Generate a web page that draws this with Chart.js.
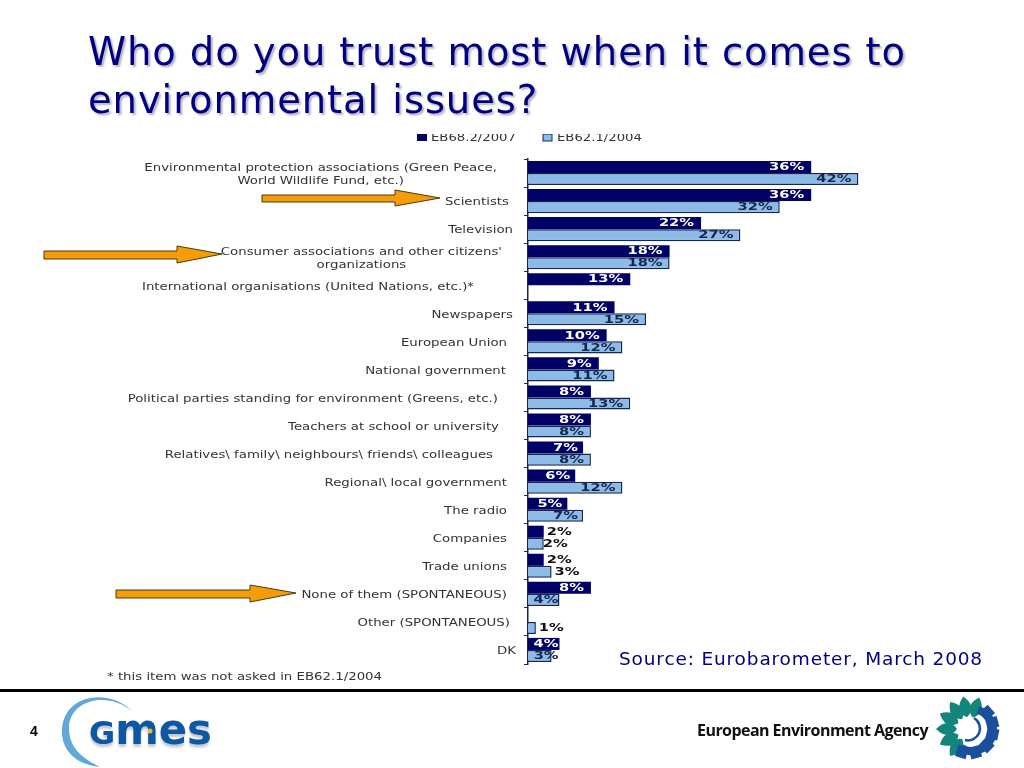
<!DOCTYPE html>
<html lang="en">
<head>
<meta charset="UTF-8">
<title>Who do you trust most when it comes to environmental issues?</title>
<script src="https://cdn.jsdelivr.net/npm/chart.js@4"></script>
<style>
  body { margin: 0; background: #fff; width: 1024px; height: 768px; overflow: hidden; position: relative; font-family: "DejaVu Sans", sans-serif; }
  canvas { position: absolute; left: 0; top: 0; }
  svg { position: absolute; left: 0; top: 0; }
  h1 { position: absolute; left: 88px; top: 28px; margin: 0; font-size: 38.5px; line-height: 48px; font-weight: normal; color: #000080; text-shadow: 2px 2px 2px #b4b4c0; white-space: nowrap; letter-spacing: 0.9px; }
  .source { position: absolute; left: 619px; top: 648px; font-size: 18.5px; color: #000080; white-space: nowrap; letter-spacing: 0.85px; }
  .pageno { position: absolute; left: 30px; top: 723px; font: bold 14px "Liberation Sans", sans-serif; color: #000; }
  .rule { position: absolute; left: 0; top: 689px; width: 1024px; height: 3px; background: #000; }
  .eea { position: absolute; left: 697px; top: 719px; font: bold 16px "Open Sans", sans-serif; color: #111; white-space: nowrap; letter-spacing: -0.55px; }
</style>
</head>
<body>
<canvas id="chart" width="1024" height="768"></canvas>
<h1>Who do you trust most when it comes to<br>environmental issues?</h1>
<div class="source">Source: Eurobarometer, March 2008</div>
<div class="rule"></div>
<div class="pageno">4</div>
<div class="eea">European Environment Agency</div>

<svg id="overlay" width="1024" height="768" xmlns="http://www.w3.org/2000/svg">
  <!-- Orange arrows -->
  <g fill="#f59c0a" stroke="#4a3a10" stroke-width="1">
    <polygon points="262,195 395,195 395,190 440,198 395,206 395,202 262,202"/>
    <polygon points="44,251 177,251 177,246 222,254 177,263 177,259 44,259"/>
    <polygon points="116,590 250,590 250,585 296,593 250,602 250,598 116,598"/>
  </g>
  <!-- GMES logo -->
  <path d="M133 712 C112 688 62 692 62 732 C62 752 78 765 100 767 C82 758 69 748 69 728 C69 700 108 690 133 712 Z" fill="#62a8d6"/>
  <text x="89" y="744" font-family="DejaVu Sans" font-weight="bold" fill="#0d57a3" textLength="123" lengthAdjust="spacingAndGlyphs" style="filter: drop-shadow(0 3px 1px #c4c8d0)"><tspan font-size="32">G</tspan><tspan font-size="42">mes</tspan></text>
  <circle cx="150" cy="731" r="2.5" fill="#e8b830"/>
  <g id="eeaLogo"></g>
</svg>

<script>
const categories = [
  ["Environmental protection associations (Green Peace,", "World Wildlife Fund, etc.)"],
  "Scientists",
  "Television",
  ["Consumer associations and other citizens'", "organizations"],
  "International organisations (United Nations, etc.)*",
  "Newspapers",
  "European Union",
  "National government",
  "Political parties standing for environment (Greens, etc.)",
  "Teachers at school or university",
  "Relatives\\ family\\ neighbours\\ friends\\ colleagues",
  "Regional\\ local government",
  "The radio",
  "Companies",
  "Trade unions",
  "None of them (SPONTANEOUS)",
  "Other (SPONTANEOUS)",
  "DK"
];
const series2007 = [36, 36, 22, 18, 13, 11, 10, 9, 8, 8, 7, 6, 5, 2, 2, 8, null, 4];
const series2004 = [42, 32, 27, 18, null, 15, 12, 11, 13, 8, 8, 12, 7, 2, 3, 4, 1, 3];
const seriesNames = ["EB68.2/2007", "EB62.1/2004"];
const footnote = "* this item was not asked in EB62.1/2004";

// right edge of each category label, the original ones do not line up
const labelEnds = [497, 509, 513, 502, 474, 513, 507, 506, 498, 499, 493, 507, 507, 507, 507, 507, 510, 516];
const textStretch = 1.21;
const valueStretch = 1.4;

function stretchedText(ctx, text, x, y, stretch) {
  ctx.save();
  ctx.translate(x, y);
  ctx.scale(stretch, 1);
  ctx.fillText(text, 0, 0);
  ctx.restore();
}

const slideText = {
  id: 'slideText',
  afterDraw(chart) {
    const ctx = chart.ctx;
    const yScale = chart.scales.y;

    // category labels, multi-line ones are centred
    ctx.save();
    ctx.font = '11px "DejaVu Sans"';
    ctx.fillStyle = '#333';
    ctx.textBaseline = 'middle';
    ctx.textAlign = 'center';
    categories.forEach((cat, i) => {
      const lines = Array.isArray(cat) ? cat : [cat];
      const width = Math.max(...lines.map(l => ctx.measureText(l).width)) * textStretch;
      const cx = labelEnds[i] - width / 2;
      const cy = yScale.getPixelForValue(i) + 1.5;
      lines.forEach((line, k) => {
        stretchedText(ctx, line, cx, cy + (k - (lines.length - 1) / 2) * 12.5, textStretch);
      });
    });
    ctx.textAlign = 'left';
    stretchedText(ctx, footnote, 107, 677, textStretch);
    ctx.restore();

    // value labels
    ctx.save();
    ctx.font = 'bold 10.5px "DejaVu Sans"';
    ctx.textBaseline = 'middle';
    chart.data.datasets.forEach((ds, d) => {
      chart.getDatasetMeta(d).data.forEach((bar, i) => {
        const v = ds.data[i];
        if (v === null) return;
        const text = v + '%';
        const width = ctx.measureText(text).width * valueStretch;
        let gap = 7;
        if (v < 8) gap = 5;
        if (v === 4) gap = 1;
        let x = bar.x - width - gap;
        let color = d === 0 ? '#fff' : '#16264f';
        if (v < 3 || (v === 3 && categories[i] !== 'DK')) {
          x = bar.x + (v === 2 && d === 1 ? -1 : 3);
          color = '#111';
        } else if (v === 3) {
          x = bar.x - width + 7;
        }
        ctx.fillStyle = color;
        stretchedText(ctx, text, x, bar.y + 0.5, valueStretch);
      });
    });
    ctx.restore();

    // legend, cut at the top like in the slide
    ctx.save();
    ctx.beginPath();
    ctx.rect(400, 134, 300, 12);
    ctx.clip();
    ctx.font = '11px "DejaVu Sans"';
    ctx.textBaseline = 'middle';
    ctx.textAlign = 'left';
    ctx.fillStyle = '#000066';
    ctx.fillRect(417, 134, 10, 7);
    ctx.fillStyle = '#8dbbe8';
    ctx.strokeStyle = '#16264f';
    ctx.fillRect(543, 134, 9, 7);
    ctx.strokeRect(543, 134, 9, 7);
    ctx.fillStyle = '#333';
    stretchedText(ctx, seriesNames[0], 431, 138, 1.2);
    stretchedText(ctx, seriesNames[1], 557, 138, 1.2);
    ctx.restore();
  }
};

new Chart(document.getElementById('chart'), {
  type: 'bar',
  data: {
    labels: categories,
    datasets: [
      { label: seriesNames[0], data: series2007, backgroundColor: '#000066', borderColor: '#000066', borderWidth: 0 },
      { label: seriesNames[1], data: series2004, backgroundColor: '#8dbbe8', borderColor: '#16264f', borderWidth: 1.5 }
    ]
  },
  options: {
    indexAxis: 'y',
    responsive: false,
    animation: false,
    layout: { padding: { left: 524, right: 24, top: 159, bottom: 104 } },
    datasets: { bar: { categoryPercentage: 0.86, barPercentage: 1 } },
    plugins: { legend: { display: false }, tooltip: { enabled: false } },
    scales: {
      x: { display: false, min: 0, max: 60 },
      y: {
        ticks: { display: false },
        border: { color: '#16264f', width: 1.5 },
        grid: { drawOnChartArea: false, drawTicks: true, tickLength: 4, color: '#16264f' }
      }
    }
  },
  plugins: [slideText]
});

// EEA logo: green leaves and blue gear teeth around a hook
const eeaLogo = document.getElementById('eeaLogo');
let logoMarkup = '';
[18, -10, -35, -62, -90, -118, -145].forEach(a => {
  logoMarkup += '<path transform="translate(969 729) rotate(' + a + ')" d="M0 -12 C-9 -18 -7 -26 0 -33 C7 -26 9 -18 0 -12 Z" fill="#14857a"/>';
});
[48, 75, 102, 133, 165, 197].forEach(a => {
  logoMarkup += '<rect transform="translate(969 729) rotate(' + a + ')" x="-5.5" y="-30" width="11" height="12" fill="#1a4f9c"/>';
});
logoMarkup += '<path d="M978 710 A21 21 0 1 1 961 748" fill="none" stroke="#1a4f9c" stroke-width="8"/>';
logoMarkup += '<path d="M974 718 A12 12 0 0 1 965 740" fill="none" stroke="#1a4f9c" stroke-width="2.5"/>';
eeaLogo.innerHTML = logoMarkup;
</script>
</body>
</html>
